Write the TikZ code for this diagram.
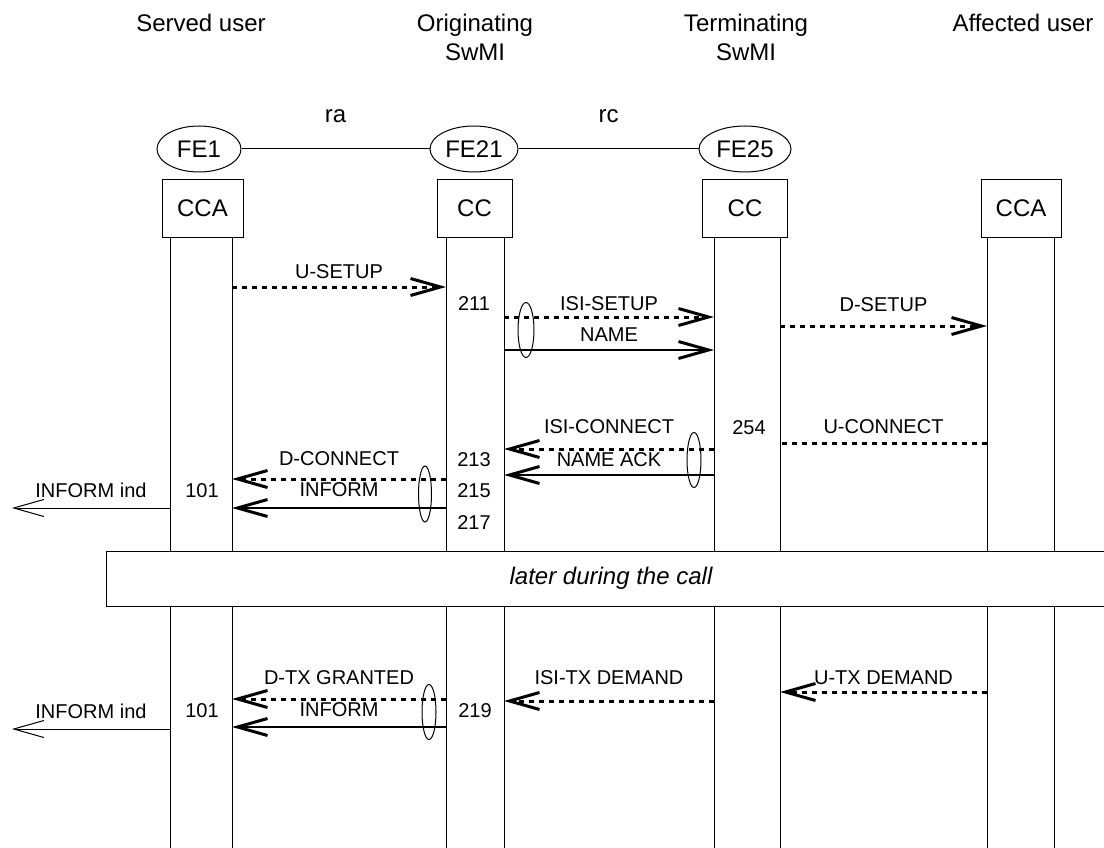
\documentclass[tikz,border=0pt]{standalone}
\usepackage{fontspec}
\setmainfont{Liberation Sans}
\usetikzlibrary{shapes.geometric,arrows.meta,positioning}

\tikzset{
  big/.style={font=\fontsize{24}{29}\selectfont},
  lbl/.style={font=\fontsize{20}{24}\selectfont, inner sep=0pt},
  fe/.style={draw, ellipse, big, line width=1pt, minimum width=84pt, minimum height=46pt, inner sep=0pt},
  ent/.style={draw, big, line width=1pt, minimum height=57pt, inner sep=0pt},
  life/.style={line width=1pt},
  dotsig/.style={line width=3pt, dash pattern=on 5pt off 5pt},
  dsig/.style={dotsig, -{Straight Barb[length=30pt,width=17pt,line width=3pt]}},
  ssig/.style={line width=2.5pt, -{Straight Barb[length=30pt,width=17pt,line width=3pt]}},
  env/.style={line width=1pt, -{Straight Barb[length=30pt,width=17pt]}},
  grp/.style={draw, ellipse, line width=1pt, minimum width=15pt, minimum height=55pt, inner sep=0pt}
}

\begin{document}
\begin{tikzpicture}[x=1pt, y=-1pt]
  \useasboundingbox (0,0) rectangle (1104,848);
  % Headers
  \node[big] (HServed) at (201,23) {Served user};
  \node[big, align=center] (HOrig) at (475,37) {Originating\\SwMI};
  \node[big, align=center] (HTerm) at (746,37) {Terminating\\SwMI};
  \node[big] (HAffected) at (1023,23) {Affected user};

  % Functional entities
  \node[fe] (FE1) at (199,149) {FE1};
  \node[fe, minimum width=88pt] (FE21) at (474,149) {FE21};
  \node[fe, minimum width=92pt] (FE25) at (745,149) {FE25};
  \draw[life] (FE1) -- (FE21) node[big, inner sep=0pt, midway, above=26pt] (Ra) {ra};
  \draw[life] (FE21) -- (FE25) node[big, inner sep=0pt, midway, above=26pt] (Rc) {rc};

  \node[ent, minimum width=81pt] (CCAserved) at (202.5,208.5) {CCA};
  \node[ent, minimum width=75pt] (CCorig) at (474.5,208.5) {CC};
  \node[ent, minimum width=85pt] (CCterm) at (745,208.5) {CC};
  \node[ent, minimum width=80pt] (CCAaff) at (1021,208.5) {CCA};

  % Lifelines
  \coordinate (Bot) at (0,848);
  \coordinate (SuL) at (170,237);
  \coordinate (SuR) at (232,237);
  \coordinate (OrL) at (446,237);
  \coordinate (OrR) at (504,237);
  \coordinate (TeL) at (714,237);
  \coordinate (TeR) at (780,237);
  \coordinate (AfL) at (987,237);
  \coordinate (AfR) at (1054,237);
  \foreach \l in {SuL,SuR,OrL,OrR,TeL,TeR,AfL,AfR}
    \draw[life] (\l) -- (\l |- Bot);

  \node[draw, fill=white, line width=1pt, minimum width=1010pt, minimum height=55pt,
        font=\fontsize{24}{29}\selectfont\itshape] (Later) at (611,578.5) {later during the call};

  % Call set-up
  \draw[dsig] (SuR |- 0,287) -- (OrL |- 0,287) node[lbl, midway, above=7pt] (MUSetup) {U-SETUP};
  \node[lbl] (N211) at (474,304) {211};
  \draw[dsig] (OrR |- 0,317) -- (TeL |- 0,317) node[lbl, midway, above=5pt] (MIsiSetup) {ISI-SETUP};
  \draw[ssig] (OrR |- 0,350) -- (TeL |- 0,350) node[lbl, midway, above=7pt] (MName) {NAME};
  \node[grp, minimum width=16pt] (GrpA) at (526,330) {};
  \draw[dsig] (TeR |- 0,326) -- (AfL |- 0,326) node[lbl, midway, above=13pt] (MDSetup) {D-SETUP};

  % Call connect
  \node[lbl] (N254) at (749,428) {254};
  \draw[dotsig] (AfL |- 0,443) -- (TeR |- 0,443) node[lbl, midway, above=8pt] (MUConnect) {U-CONNECT};
  \draw[dsig] (TeL |- 0,449) -- (OrR |- 0,449) node[lbl, midway, above=14pt] (MIsiConnect) {ISI-CONNECT};
  \draw[ssig] (TeL |- 0,475) -- (OrR |- 0,475) node[lbl, midway, above=7pt] (MNameAck) {NAME ACK};
  \node[grp, minimum width=14pt] (GrpB) at (694,460) {};
  \node[lbl] (N213) at (474,460) {213};
  \node[lbl] (N215) at (474,491) {215};
  \node[lbl] (N217) at (474,523) {217};
  \draw[dsig] (OrL |- 0,479) -- (SuR |- 0,479) node[lbl, midway, above=12pt] (MDConnect) {D-CONNECT};
  \draw[ssig] (OrL |- 0,508) -- (SuR |- 0,508) node[lbl, midway, above=10pt] (MInformA) {INFORM};
  \node[grp, minimum width=13pt, minimum height=56pt] (GrpC) at (425,494) {};
  \node[lbl] (N101a) at (202,491) {101};
  \coordinate (EnvA) at (12,508);
  \draw[env] (SuL |- EnvA) -- (EnvA) node[lbl, midway, above=10pt] (MIndA) {INFORM ind};

  % Later during the call
  \draw[dsig] (AfL |- 0,692) -- (TeR |- 0,692) node[lbl, midway, above=6pt] (MUTx) {U-TX DEMAND};
  \draw[dsig] (TeL |- 0,701) -- (OrR |- 0,701) node[lbl, midway, above=15pt] (MIsiTx) {ISI-TX DEMAND};
  \node[lbl] (N219) at (475,711) {219};
  \draw[dsig] (OrL |- 0,699) -- (SuR |- 0,699) node[lbl, midway, above=13pt] (MDTx) {D-TX GRANTED};
  \draw[ssig] (OrL |- 0,727) -- (SuR |- 0,727) node[lbl, midway, above=9pt] (MInformB) {INFORM};
  \node[grp, minimum width=14pt] (GrpD) at (429,712) {};
  \node[lbl] (N101b) at (202,711) {101};
  \coordinate (EnvB) at (12,729);
  \draw[env] (SuL |- EnvB) -- (EnvB) node[lbl, midway, above=10pt] (MIndB) {INFORM ind};
\end{tikzpicture}
\end{document}
